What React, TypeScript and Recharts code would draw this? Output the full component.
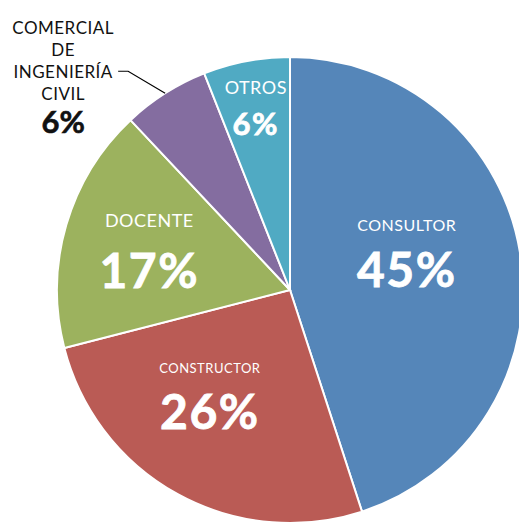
import { Cell, Pie, PieChart } from "recharts";

const NAMES = ["CONSULTOR", "CONSTRUCTOR", "DOCENTE", "COMERCIAL DE INGENIERÍA CIVIL", "OTROS"];
const VALUES = [45, 26, 17, 6, 6];
const COLORS = ["#5586B9", "#BA5B55", "#9CB25E", "#846DA0", "#50AAC3"];

const FONT = "Lato, 'Open Sans', sans-serif";
const RAD = Math.PI / 180;

// label placement per slice: radius ratio, angle nudge (deg), name size, pct size, gap name->pct
const LAYOUT = [
  { r: 0.51, da: 1.6, nameSize: 16, pctSize: 48, gap: 44 },
  { r: 0.62, da: -4.9, nameSize: 13, pctSize: 48, gap: 42 },
  { r: 0.61, da: 8.1, nameSize: 18, pctSize: 48, gap: 50 },
  { r: 0, da: 0, nameSize: 17, pctSize: 31, gap: 0 },
  { r: 0.73, da: 0.8, nameSize: 18, pctSize: 31, gap: 36 },
];

const data = NAMES.map((name, i) => ({ name, value: VALUES[i] }));

function renderLabel(props: any) {
  const { cx, cy, midAngle, outerRadius, index } = props;
  const v = VALUES[index];
  const L = LAYOUT[index];

  if (index === 3) {
    // outside label with leader line
    const sx = cx + outerRadius * Math.cos(-midAngle * RAD);
    const sy = cy + outerRadius * Math.sin(-midAngle * RAD);
    const ex = sx - 37;
    const ey = sy - 22;
    const tx = ex - 10;
    const mid = tx - 55;
    const lines = ["COMERCIAL", "DE", "INGENIERÍA", "CIVIL"];
    return (
      <g>
        <polyline points={`${sx},${sy} ${ex},${ey} ${tx},${ey}`} fill="none" stroke="#000" strokeWidth={1.2} />
        {lines.map((t, k) => (
          <text
            key={t}
            x={mid}
            y={ey + (k - 2) * 22}
            textAnchor="middle"
            dominantBaseline="central"
            fontFamily={FONT}
            fontSize={L.nameSize}
            letterSpacing={0.5}
            fill="#111"
          >
            {t}
          </text>
        ))}
        <text
          x={mid}
          y={ey + 50}
          textAnchor="middle"
          dominantBaseline="central"
          fontFamily={FONT}
          fontWeight={700}
          fontSize={L.pctSize}
          stroke="#111"
          strokeWidth={0.6}
          fill="#111"
        >
          {v}%
        </text>
      </g>
    );
  }

  const a = (midAngle + L.da) * RAD;
  const r = outerRadius * L.r;
  const x = cx + r * Math.cos(-a);
  const y = cy + r * Math.sin(-a);
  return (
    <g>
      <text
        x={x}
        y={y - L.gap}
        textAnchor="middle"
        dominantBaseline="central"
        fontFamily={FONT}
        fontSize={L.nameSize}
        letterSpacing={0.5}
        fill="#fff"
      >
        {NAMES[index]}
      </text>
      <text
        x={x}
        y={y}
        textAnchor="middle"
        dominantBaseline="central"
        fontFamily={FONT}
        fontWeight={700}
        fontSize={L.pctSize}
        letterSpacing={1.5}
        stroke="#fff"
        strokeWidth={0.8}
        fill="#fff"
      >
        {v}%
      </text>
    </g>
  );
}

export default function App() {
  return (
    <div style={{ width: 519, height: 524, background: "#fff" }}>
      <style>{`body{margin:0}`}</style>
      <PieChart width={519} height={524} margin={{ top: 0, right: 0, bottom: 0, left: 0 }}>
        <Pie
          data={data}
          dataKey="value"
          nameKey="name"
          cx={290}
          cy={290}
          outerRadius={233}
          startAngle={90}
          endAngle={-270}
          stroke="#fff"
          strokeWidth={2}
          label={renderLabel}
          labelLine={false}
          isAnimationActive={false}
        >
          {data.map((d, i) => (
            <Cell key={d.name} fill={COLORS[i]} />
          ))}
        </Pie>
      </PieChart>
    </div>
  );
}
